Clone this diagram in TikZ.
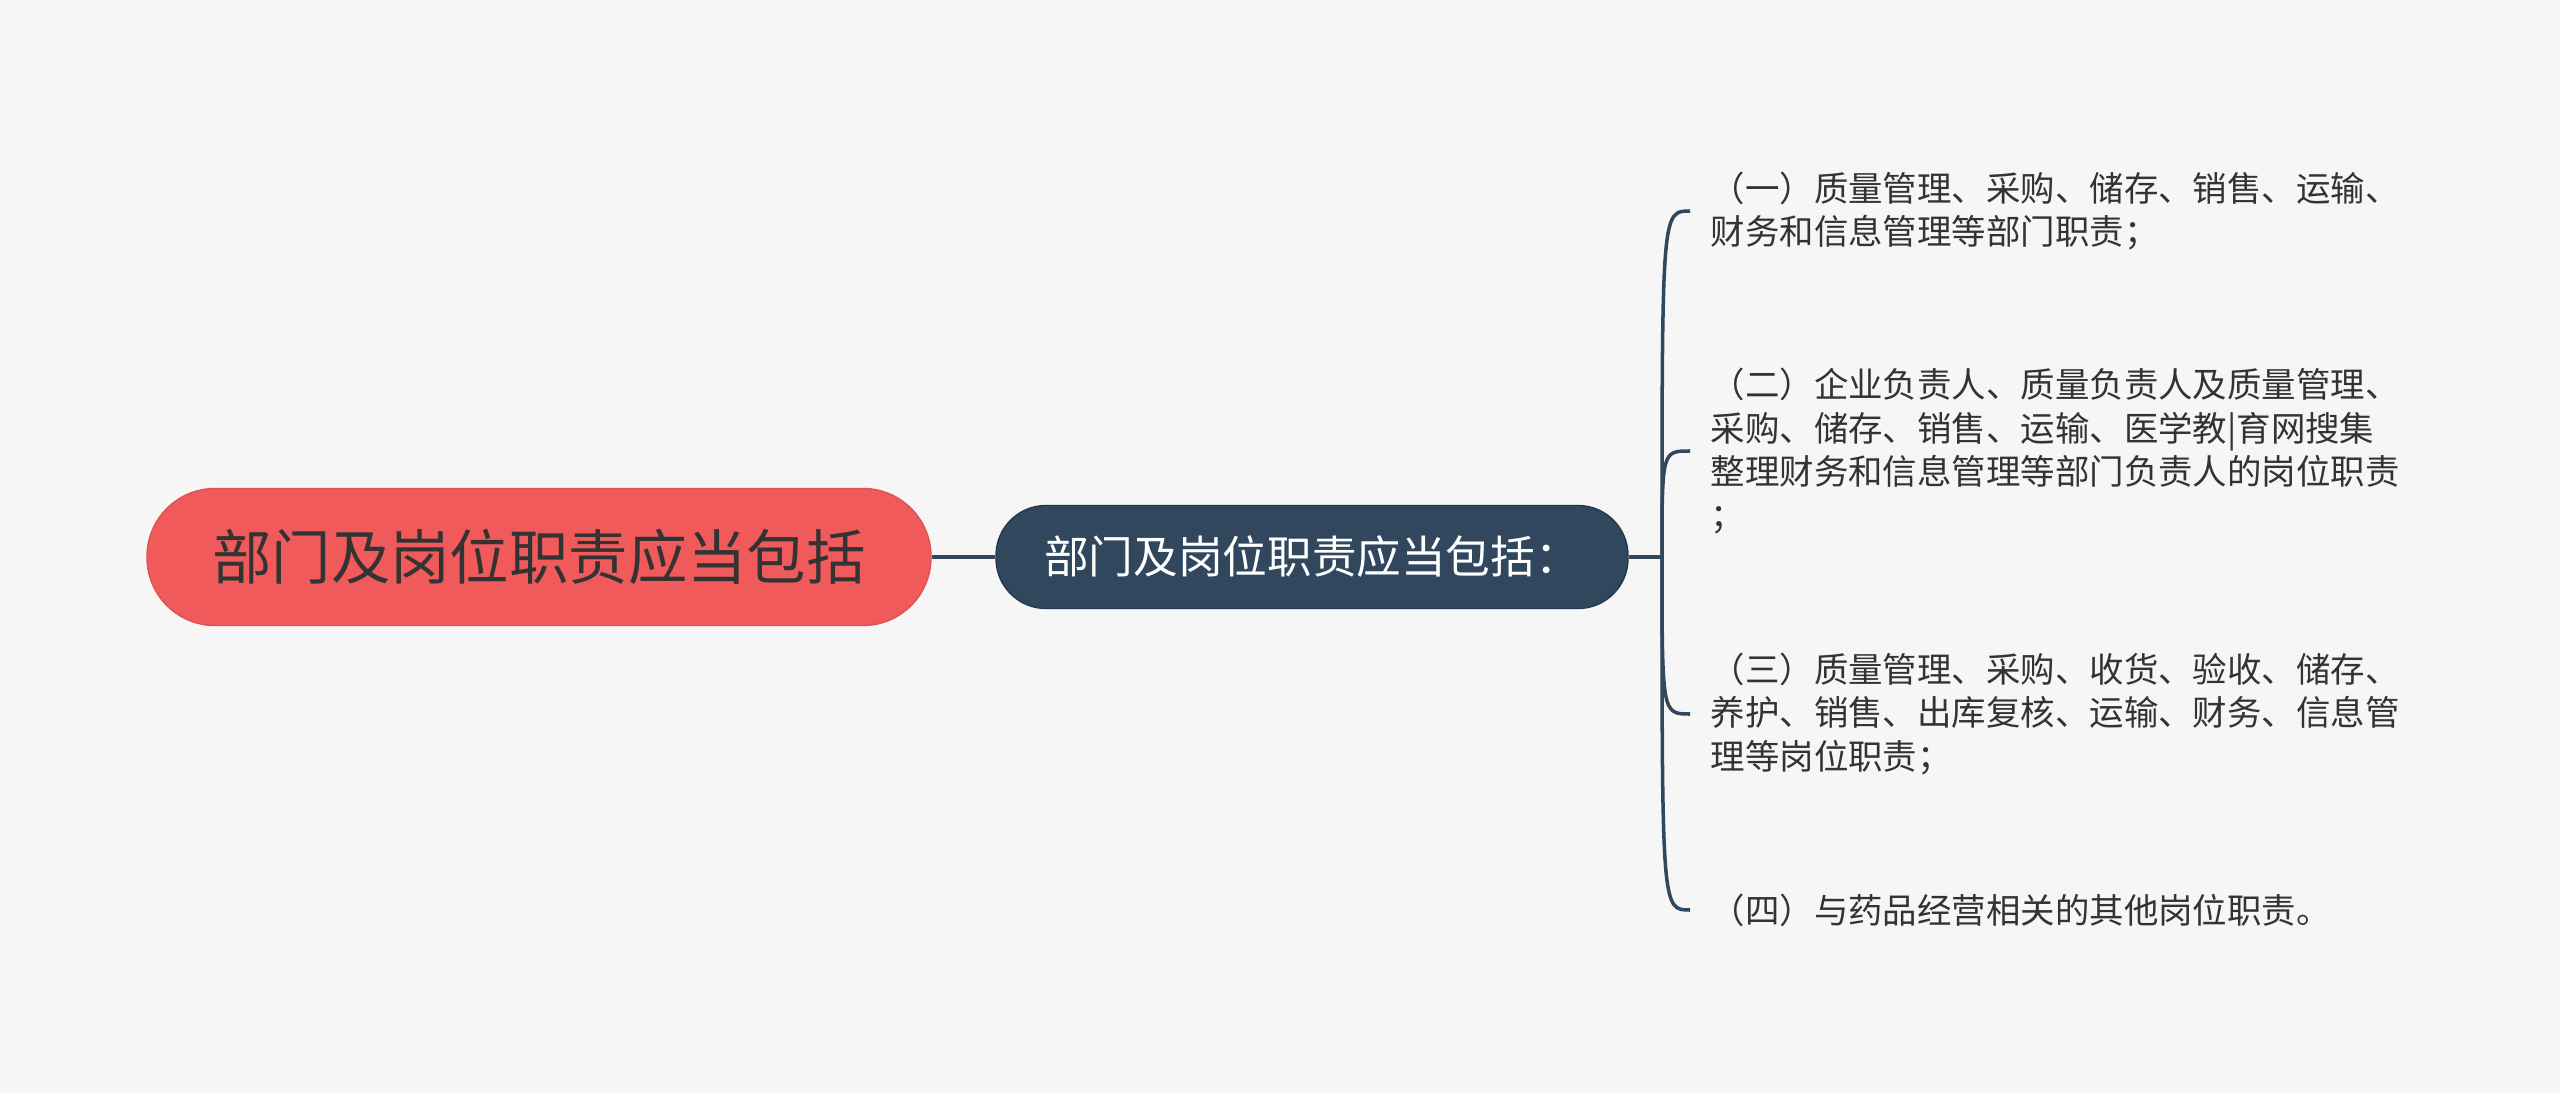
\documentclass[tikz,border=0pt]{standalone}
\usepackage{fontspec}
\newfontfamily\cjk{Noto Sans CJK SC}

\begin{document}
\begin{tikzpicture}[
		mainbox/.style={fill=mainred, draw=mainred!92!black, rounded corners=0.68cm,
			minimum width=7.84cm, minimum height=1.37cm, inner sep=0pt, text=darktext,
			font=\cjk\fontsize{16.9}{20}\selectfont},
		subbox/.style={fill=navy, draw=navy!80!black, rounded corners=0.5cm,
			minimum width=6.32cm, minimum height=1.03cm, inner sep=0pt, text=white,
			font=\cjk\fontsize{12.7}{15}\selectfont},
		duty/.style={anchor=west, align=left, inner sep=0pt, text=darktext,
			font=\cjk\fontsize{9.8}{12.5}\selectfont},
		link/.style={draw=navy, line width=1pt}
	]
	\definecolor{mainred}{HTML}{F05A5A}
	\definecolor{navy}{HTML}{30475E}
	\definecolor{darktext}{HTML}{333333}
	\definecolor{bggray}{HTML}{F6F6F6}
	
	% canvas
	\useasboundingbox (0,0) rectangle (25.6,10.93);
	\fill[bggray] (0,0) rectangle (25.6,10.93);
	
	% centre nodes
	\node[mainbox] (main) at (5.39,5.36) {部门及岗位职责应当包括};
	\node[subbox] (sub) at (13.12,5.36) {部门及岗位职责应当包括：};
	\draw[link] (main.east) -- (sub.west);
	
	% duties
	\node[duty] (duty1) at (17.10,8.82) {（一）质量管理、采购、储存、销售、运输、\\财务和信息管理等部门职责；};
	\node[duty] (duty2) at (17.10,6.42) {（二）企业负责人、质量负责人及质量管理、\\采购、储存、销售、运输、医学教|育网搜集\\整理财务和信息管理等部门负责人的岗位职责\\；};
	\node[duty] (duty3) at (17.10,3.79) {（三）质量管理、采购、收货、验收、储存、\\养护、销售、出库复核、运输、财务、信息管\\理等岗位职责；};
	\node[duty] (duty4) at (17.10,1.83) {（四）与药品经营相关的其他岗位职责。};
	
	% bracket
	\coordinate (hub) at (16.62,5.36);
	\draw[link] (sub.east) -- (hub);
	\foreach \i in {1,...,4}{
		\coordinate (end\i) at ([xshift=-0.2cm]duty\i.west);
		\draw[link] (hub) .. controls (hub |- end\i) and (hub |- end\i) .. (end\i);
	}
\end{tikzpicture}
\end{document}
